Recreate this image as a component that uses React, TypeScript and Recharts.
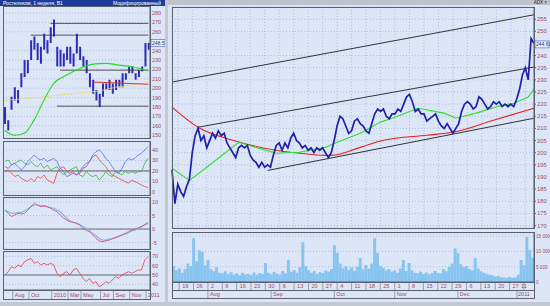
import React from 'react';
import { ComposedChart, Line, Bar, XAxis, YAxis, CartesianGrid, ReferenceLine } from 'recharts';

const FONT = '"Liberation Sans", Arial, sans-serif';
const BG = '#dde6f6';
const GRID = '#aebfe0';
const LBL = '#a04868';

// ---------- categories ----------
const closedDays = ['2011-01-03', '2011-01-04', '2011-01-05', '2011-01-06', '2011-01-07', '2011-01-10'];
function buildDays(start: string, end: string, closed: string[]): string[] {
  const out: string[] = [];
  const t = new Date(start + 'T00:00:00Z');
  const e = new Date(end + 'T00:00:00Z');
  while (t <= e) {
    const wd = t.getUTCDay();
    const s = t.toISOString().slice(0, 10);
    if (wd !== 0 && wd !== 6 && closed.indexOf(s) < 0) out.push(s);
    t.setUTCDate(t.getUTCDate() + 1);
  }
  return out;
}
const days = buildDays('2010-07-15', '2011-01-14', closedDays);

const weekTicks = ['2010-07-19', '2010-07-26', '2010-08-02', '2010-08-09', '2010-08-16', '2010-08-23', '2010-08-30',
  '2010-09-06', '2010-09-13', '2010-09-20', '2010-09-27', '2010-10-04', '2010-10-11', '2010-10-18', '2010-10-25',
  '2010-11-01', '2010-11-08', '2010-11-15', '2010-11-22', '2010-11-29', '2010-12-06', '2010-12-13', '2010-12-20',
  '2010-12-27', '2011-01-11'];
const monthTicks = [
  { d: '2010-08-02', label: 'Aug' }, { d: '2010-09-01', label: 'Sep' }, { d: '2010-10-01', label: 'Oct' },
  { d: '2010-11-01', label: 'Nov' }, { d: '2010-12-01', label: 'Dec' }, { d: '2011-01-11', label: '2011' },
];
// 245 sits under the last-price box, as in the reference
const mainTicks = [170, 175, 180, 185, 190, 195, 200, 205, 210, 215, 220, 225, 230, 235, 240, 250, 255];
const volTicks = [0, 5000, 10000, 15000];

// ---------- main series ----------
const price = [193,179,187,184,182,186,189,200,207,210,205,207,202,205,208,206,209,207,208,204,
  202,200,198,202,203,202,203,199,197,196,194,196,194,195,194,199,203,204,201,204,
  202,206,208,205,204,202,203,201,202,200,202,201,202,200,198,200,205,211,215,214,
  211,208,209,213,214,212,211,209,208,212,216,218,217,218,215,214,216,216,218,217,
  220,223,224,221,217,218,216,216,213,214,215,216,213,211,210,212,210,208,210,212,
  217,220,221,220,218,219,223,222,220,218,219,221,220,221,219,220,219,220,219,222,
  226,232,235,230,247,245];
const volume = [5200,3800,4500,3000,4200,6000,5200,14300,6800,10400,9800,5500,7200,
  4200,3500,4800,3000,2800,3500,2600,3200,2400,2800,2200,3000,2500,
  2700,2300,3100,2400,2900,2600,6200,3000,2500,3300,2700,2400,3600,2800,
  7200,3400,3900,3000,4800,13000,5200,3800,3000,3500,2600,3200,2900,3800,3400,4200,
  12000,9500,6000,4500,5200,4000,4800,3600,5000,7800,4200,5500,4400,6000,14300,
  9500,5200,4600,3800,4200,3400,3800,3000,4400,7200,3600,6200,3800,3000,2800,
  3400,2600,3100,2500,2900,3600,3000,2800,4200,3500,5000,6000,11000,9500,5800,
  4800,5200,4200,3800,7800,4400,3500,3000,2600,2400,2200,1800,2000,
  1600,1500,1400,1700,1300,1500,2400,7200,5500,14700,10500,8000];
const redMA: [number, number][] = [[0,218.8],[9,210.5],[21,205.1],[36,201.0],[44,199.8],[53,198.9],[55,198.9],[65,202.2],[73,205.1],[88,207.2],[97,208.4],[111,213.4],[125,218.3]];
const greenMA: [number, number][] = [[0,193.6],[6,188.6],[12,194],[23,204.3],[29,202.2],[36,199.8],[44,200.2],[53,202.2],[57,204.3],[65,208],[72,212.6],[76,214.2],[85,218.3],[94,216.3],[98,214.2],[105,216.3],[113,219.2],[118,220.4],[123,222.9],[125,226.2]];
const chanTop: [number, number][] = [[0,229.1],[125,256.8]];
const chanMid: [number, number][] = [[9,210.5],[125,235.3]];
const chanLow: [number, number][] = [[33,192.7],[125,214.2]];

function sparse(n: number, pts: [number, number][]) {
  const a: (number | null)[] = new Array(n).fill(null);
  pts.forEach(([i, v]) => { a[i] = v; });
  return a;
}
const N = days.length;
const rTop = sparse(N, chanTop), rMid = sparse(N, chanMid), rLow = sparse(N, chanLow);
const rRed = sparse(N, redMA), rGreen = sparse(N, greenMA);
const mainRows = days.map((d, i) => ({ d, price: price[i], top: rTop[i], mid: rMid[i], low: rLow[i], red: rRed[i], green: rGreen[i] }));
const volRows = days.map((d, i) => ({ d, v: volume[i] }));
const xTicks = Array.from(new Set([...weekTicks, ...monthTicks.map(m => m.d)])).sort();
const lastTick = xTicks[xTicks.length - 1];

// ---------- left (long term) series ----------
const leftHigh = [180,166,191,201,198,216,230,230,251,255,248,244,258,251,265,273,244,241,237,244,244,237,258,244,234,230,216,209,198,194,205,205,209,205,209,209,216,216,223,223,216,219,223,248,248];
const leftLow = [162,155,177,187,184,201,212,216,230,241,230,226,241,237,248,255,223,223,223,230,226,223,237,230,223,216,201,194,187,180,191,198,198,194,198,201,201,209,216,216,209,212,218,223,241];
const leftGreen: [number, number][] = [[0,155],[3,150],[6,152],[9,166],[12,187],[15,205],[19,214],[23,221],[27,225.6],[31,226.4],[35,224.6],[39,222.8],[44,218.5]];
const leftYellow: [number, number][] = [[0,187],[10,190],[20,194],[29,197],[34,201],[44,206]];
const lvl1: [number, number][] = [[14,269],[44,269]];
const lvl2: [number, number][] = [[8,256.5],[44,256.5]];
const lvl3: [number, number][] = [[17,219.2],[44,219.2]];
const lvl4: [number, number][] = [[16,180.9],[44,180.9]];
const lvlRed: [number, number][] = [[27,206.6],[44,204.2]];
// 250 sits under the last-price box
const leftTicks = [150,160,170,180,190,200,210,220,230,240,260,270,280];

const diPlus = [24.1,22.5,25.7,27.3,24.1,21.0,24.1,28.9,32.1,35.2,32.1,30.5,32.1,28.9,30.5,32.1,28.9,22.5,19.4,14.6,16.2,17.8,16.2,19.4,24.1,27.3,28.9,35.2,38.4,40.0,36.8,32.1,28.9,24.1,19.4,17.8,22.5,28.9,32.1,30.5,32.1,35.2,36.8,40.0,43.2];
const diMinus = [19.4,21.0,17.8,14.6,16.2,13.0,11.4,9.8,13.0,9.8,14.6,13.0,16.2,11.4,9.8,8.3,17.8,22.5,24.1,19.4,17.8,19.4,16.2,17.8,22.5,24.1,28.9,33.7,35.2,30.5,27.3,24.1,19.4,16.2,14.6,13.0,11.4,9.8,8.3,11.4,9.8,8.3,6.7,5.1,4.2];
const adx = [28.9,30.5,25.7,27.3,28.9,30.5,27.3,25.7,28.9,25.7,24.1,27.3,22.5,25.7,21.0,22.5,24.1,19.4,16.2,19.4,21.0,22.5,24.1,16.2,14.6,19.4,16.2,14.6,16.2,11.4,14.6,19.4,16.2,14.6,19.4,17.8,16.2,19.4,17.8,19.4,17.8,19.4,19.4,27.3,32.1];
const macd = [7.0,5.8,4.6,5.2,5.8,5.6,5.8,7.0,8.3,9.5,8.9,8.3,8.6,8.3,7.7,7.0,6.4,5.2,4.0,3.3,2.7,2.5,2.1,1.5,0.2,-0.4,-1.0,-2.2,-3.5,-4.4,-4.7,-4.4,-4.1,-3.7,-3.2,-2.8,-2.2,-1.6,-1.0,-0.4,0.0,0.5,0.9,1.7,2.5];
const signal = [7.0,6.4,5.8,5.8,6.2,6.2,6.7,7.4,8.3,8.9,8.9,8.6,8.6,8.3,7.9,7.7,7.0,6.4,5.2,4.0,3.0,2.5,2.1,1.7,0.9,0.2,-0.6,-1.6,-2.5,-3.5,-4.1,-4.1,-3.7,-3.5,-3.1,-2.6,-2.2,-1.9,-1.4,-0.7,-0.4,0.2,0.9,1.5,2.1];
const rsi = [50.0,53.6,59.0,57.2,60.8,59.0,64.3,66.1,67.9,62.6,64.3,60.8,62.6,60.8,62.6,60.8,51.8,48.2,51.8,53.6,50.0,55.4,57.2,51.8,46.4,42.8,46.4,41.1,42.8,37.5,39.2,42.8,41.1,44.6,48.2,46.4,50.0,51.8,53.6,51.8,53.6,55.4,55.4,66.1,69.7];
const leftMonthTicks = [
  { i: 3, label: 'Aug' }, { i: 8, label: 'Oct' }, { i: 15, label: '2010' }, { i: 20, label: 'Mar' },
  { i: 24, label: 'May' }, { i: 30, label: 'Jul' }, { i: 34, label: 'Sep' }, { i: 39, label: 'Nov' }, { i: 44, label: '2011' },
];

const LN = leftHigh.length;
const sG = sparse(LN, leftGreen), sY = sparse(LN, leftYellow), s1 = sparse(LN, lvl1), s2 = sparse(LN, lvl2), s3 = sparse(LN, lvl3), s4 = sparse(LN, lvl4), sR = sparse(LN, lvlRed);
const leftRows = leftHigh.map((h, i) => ({ i, hl: [leftLow[i], h], g: sG[i], y: sY[i], l1: s1[i], l2: s2[i], l3: s3[i], l4: s4[i], lr: sR[i], dp: diPlus[i], dm: diMinus[i], adx: adx[i], macd: macd[i], sig: signal[i], rsi: rsi[i] }));

// ---------- ticks ----------
const RightTick = (props: any) => {
  const { x, y, payload, fs, fmt } = props;
  const v = fmt ? fmt(payload.value) : payload.value;
  return <text x={x} y={y + 2} fontSize={fs || 6} fill={LBL} textAnchor="start">{v}</text>;
};
const DayTick = (props: any) => {
  const { x, y, payload } = props;
  const v = payload.value as string;
  const wk = weekTicks.indexOf(v) >= 0;
  const m = monthTicks.find(t => t.d === v);
  const last = v === lastTick;
  return (
    <g>
      {wk && <line x1={x} x2={x} y1={y} y2={y + 8} stroke="#7c8494" strokeWidth={0.7} />}
      {wk && <text x={last ? x : x + 3} y={y + 6.2} fontSize={5.5} fill={LBL} textAnchor={last ? 'middle' : 'start'}>{String(parseInt(v.slice(8), 10))}</text>}
      {m && <line x1={last ? x - 7 : x} x2={last ? x - 7 : x} y1={y + 8} y2={y + 16} stroke="#7c8494" strokeWidth={0.7} />}
      {m && <text x={last ? x : x + 2} y={y + 14} fontSize={5.5} fill={LBL} textAnchor={last ? 'middle' : 'start'}>{m.label}</text>}
    </g>
  );
};
const LeftMonthTick = (props: any) => {
  const { x, y, payload } = props;
  const m = leftMonthTicks.find(t => t.i === payload.value);
  if (!m) return <g />;
  return (
    <g>
      <line x1={x - 2} x2={x - 2} y1={y} y2={y + 9} stroke="#7c8494" strokeWidth={0.7} />
      <text x={x} y={y + 7} fontSize={5.5} fill={LBL}>{m.label}</text>
    </g>
  );
};
const PriceBox = (props: any) => {
  const { viewBox, text } = props;
  if (!viewBox) return null;
  const x = viewBox.x + viewBox.width + 1;
  const y = viewBox.y;
  return (
    <g>
      <rect x={x} y={y - 3.5} width={14} height={7} fill="#eef2fb" stroke="#4060b8" strokeWidth={0.6} />
      <text x={x + 1} y={y + 2} fontSize={5} fill="#203080">{text}</text>
    </g>
  );
};

const ax = { stroke: '#566070' };
const common = { dot: false as const, isAnimationActive: false, connectNulls: true, type: 'linear' as const };

const Box = ({ l, t, w, h }: { l: number; t: number; w: number; h: number }) => (
  <div style={{ position: 'absolute', left: l, top: t, width: w, height: h, border: '1px solid #5a6270', boxSizing: 'border-box', pointerEvents: 'none' }} />
);

export default function App() {
  return (
    <div style={{ position: 'absolute', left: 0, top: 0, width: 550, height: 306, background: '#c4c8d2', overflow: 'hidden', fontFamily: FONT }}>
      {/* headers */}
      <div style={{ position: 'absolute', left: 0, top: 0, width: 165, height: 6, background: '#1c3c9c', color: '#fff', fontSize: 5, lineHeight: '6px', whiteSpace: 'nowrap', overflow: 'hidden' }}>
        <span style={{ paddingLeft: 3 }}>Ростелеком, 1 неделя, В1</span>
        <span style={{ position: 'absolute', right: 4 }}>Модифицированный</span>
      </div>
      <div style={{ position: 'absolute', left: 168, top: 0, width: 382, height: 5, background: '#c0c2cc', fontSize: 4.5, lineHeight: '5px', color: '#223' }}>
        <span style={{ position: 'absolute', right: 3 }}>ADX ×</span>
      </div>

      {/* left panel background */}
      <div style={{ position: 'absolute', left: 0, top: 6, width: 165, height: 296, background: BG }} />
      {/* right panel background */}
      <div style={{ position: 'absolute', left: 168, top: 5, width: 382, height: 297, background: BG }} />

      {/* LEFT: price */}
      <div style={{ position: 'absolute', left: 0, top: 6 }}>
        <ComposedChart width={165} height={132} data={leftRows} margin={{ top: 0, right: 0, bottom: 0, left: 3 }} barCategoryGap="35%">
          <CartesianGrid stroke={GRID} strokeDasharray="1 2" vertical={false} />
          <XAxis dataKey="i" hide />
          <YAxis orientation="right" width={15} domain={[147, 287.5]} ticks={leftTicks} allowDataOverflow interval={0}
            axisLine={ax} tickLine={ax} tickSize={1} tickMargin={1} tick={<RightTick fs={5.5} />} />
          <Line dataKey="y" stroke="#e6de6a" strokeWidth={0.8} {...common} />
          <Bar dataKey="hl" fill="#2c2cb4" barSize={2} isAnimationActive={false} />
          <Line dataKey="l1" stroke="#303030" strokeWidth={0.8} {...common} />
          <Line dataKey="l2" stroke="#303030" strokeWidth={0.8} {...common} />
          <Line dataKey="l3" stroke="#303030" strokeWidth={0.8} {...common} />
          <Line dataKey="l4" stroke="#303030" strokeWidth={0.8} {...common} />
          <Line dataKey="lr" stroke="#e03030" strokeWidth={1} {...common} />
          <Line dataKey="g" stroke="#22dd22" strokeWidth={1.1} {...common} type="monotone" />
          <ReferenceLine y={248} strokeOpacity={0} label={<PriceBox text="248.5" />} />
        </ComposedChart>
      </div>
      <Box l={3} t={6} w={148} h={133} />

      {/* LEFT: DI / ADX */}
      <div style={{ position: 'absolute', left: 0, top: 142 }}>
        <ComposedChart width={165} height={53} data={leftRows} margin={{ top: 0, right: 0, bottom: 0, left: 3 }}>
          <CartesianGrid stroke={GRID} strokeDasharray="1 2" vertical={false} />
          <XAxis dataKey="i" hide padding={{ left: 2, right: 2 }} />
          <YAxis orientation="right" width={15} domain={[-2.9, 47.6]} ticks={[0, 10, 20, 30, 40]} allowDataOverflow interval={0}
            axisLine={ax} tickLine={ax} tickSize={1} tickMargin={1} tick={<RightTick fs={5.5} />} />
          <ReferenceLine y={20} stroke="#404040" strokeWidth={0.8} />
          <Line dataKey="adx" stroke="#40b040" strokeWidth={0.8} {...common} />
          <Line dataKey="dm" stroke="#e04848" strokeWidth={0.8} {...common} />
          <Line dataKey="dp" stroke="#5a6ae8" strokeWidth={0.8} {...common} />
        </ComposedChart>
      </div>
      <Box l={3} t={141} w={148} h={55} />

      {/* LEFT: MACD */}
      <div style={{ position: 'absolute', left: 0, top: 198 }}>
        <ComposedChart width={165} height={51} data={leftRows} margin={{ top: 0, right: 0, bottom: 0, left: 3 }}>
          <CartesianGrid stroke={GRID} strokeDasharray="1 2" vertical={false} />
          <XAxis dataKey="i" hide padding={{ left: 2, right: 2 }} />
          <YAxis orientation="right" width={15} domain={[-7.4, 11.5]} ticks={[-5, 0, 5, 10]} allowDataOverflow interval={0}
            axisLine={ax} tickLine={ax} tickSize={1} tickMargin={1} tick={<RightTick fs={5.5} />} />
          <ReferenceLine y={0} stroke="#505050" strokeWidth={0.8} />
          <Line dataKey="sig" stroke="#80b8f0" strokeWidth={1.2} {...common} />
          <Line dataKey="macd" stroke="#e04060" strokeWidth={0.8} {...common} />
        </ComposedChart>
      </div>
      <Box l={3} t={197} w={148} h={53} />

      {/* LEFT: RSI + axis */}
      <div style={{ position: 'absolute', left: 0, top: 252 }}>
        <ComposedChart width={165} height={49} data={leftRows} margin={{ top: 0, right: 0, bottom: 0, left: 3 }}>
          <CartesianGrid stroke={GRID} strokeDasharray="1 2" vertical={false} />
          <XAxis dataKey="i" padding={{ left: 2, right: 2 }} height={11} interval={0} ticks={leftMonthTicks.map(t => t.i)}
            tick={<LeftMonthTick />} tickLine={false} tickSize={0} tickMargin={0} axisLine={ax} />
          <YAxis orientation="right" width={15} domain={[33.9, 74.7]} ticks={[40, 50, 60, 70]} allowDataOverflow interval={0}
            axisLine={ax} tickLine={ax} tickSize={1} tickMargin={1} tick={<RightTick fs={5.5} />} />
          <ReferenceLine y={50} stroke="#505050" strokeWidth={0.8} />
          <Line dataKey="rsi" stroke="#e04050" strokeWidth={0.8} {...common} />
        </ComposedChart>
      </div>
      <Box l={3} t={251} w={148} h={40} />
      <Box l={3} t={290} w={148} h={10} />

      {/* RIGHT: main */}
      <div style={{ position: 'absolute', left: 168, top: 6 }}>
        <ComposedChart width={382} height={222} data={mainRows} margin={{ top: 1, right: 0, bottom: 0, left: 4 }}>
          <CartesianGrid stroke={GRID} strokeDasharray="1 2" />
          <XAxis dataKey="d" hide ticks={weekTicks} interval={0} />
          <YAxis orientation="right" width={16} domain={[169, 260]} ticks={mainTicks} allowDataOverflow interval={0}
            axisLine={ax} tickLine={ax} tickSize={2} tickMargin={1} tick={<RightTick fs={5.8} />} />
          <Line dataKey="top" stroke="#1e1e1e" strokeWidth={0.9} {...common} />
          <Line dataKey="mid" stroke="#1e1e1e" strokeWidth={0.9} {...common} />
          <Line dataKey="low" stroke="#1e1e1e" strokeWidth={0.9} {...common} />
          <Line dataKey="red" stroke="#e82020" strokeWidth={1.1} {...common} type="monotone" />
          <Line dataKey="green" stroke="#2ee02e" strokeWidth={1.1} {...common} />
          <Line dataKey="price" stroke="#2020a8" strokeWidth={1.7} {...common} />
          <ReferenceLine y={244.6} strokeOpacity={0} label={<PriceBox text="244.61" />} />
        </ComposedChart>
      </div>
      <Box l={172} t={7} w={363} h={222} />

      {/* RIGHT: volume + dates */}
      <div style={{ position: 'absolute', left: 168, top: 230 }}>
        <ComposedChart width={382} height={72} data={volRows} margin={{ top: 3, right: 0, bottom: 3, left: 4 }} barCategoryGap={0} barGap={0}>
          <CartesianGrid stroke={GRID} strokeDasharray="1 2" vertical={false} />
          <XAxis dataKey="d" ticks={xTicks} interval={0} tick={<DayTick />} height={17} tickLine={false} tickSize={0} tickMargin={0} axisLine={ax} />
          <YAxis orientation="right" width={16} domain={[0, 16000]} ticks={volTicks} allowDataOverflow interval={0}
            axisLine={ax} tickLine={ax} tickSize={1} tickMargin={1}
            tick={<RightTick fs={4.6} fmt={(v: number) => v === 0 ? '0' : `${v / 1000} 000`} />} />
          <Bar dataKey="v" fill="#88c4f0" isAnimationActive={false} />
        </ComposedChart>
      </div>
      <Box l={172} t={232} w={363} h={51} />
      <Box l={172} t={282} w={363} h={9} />
      <Box l={172} t={290} w={363} h={9} />
    </div>
  );
}
